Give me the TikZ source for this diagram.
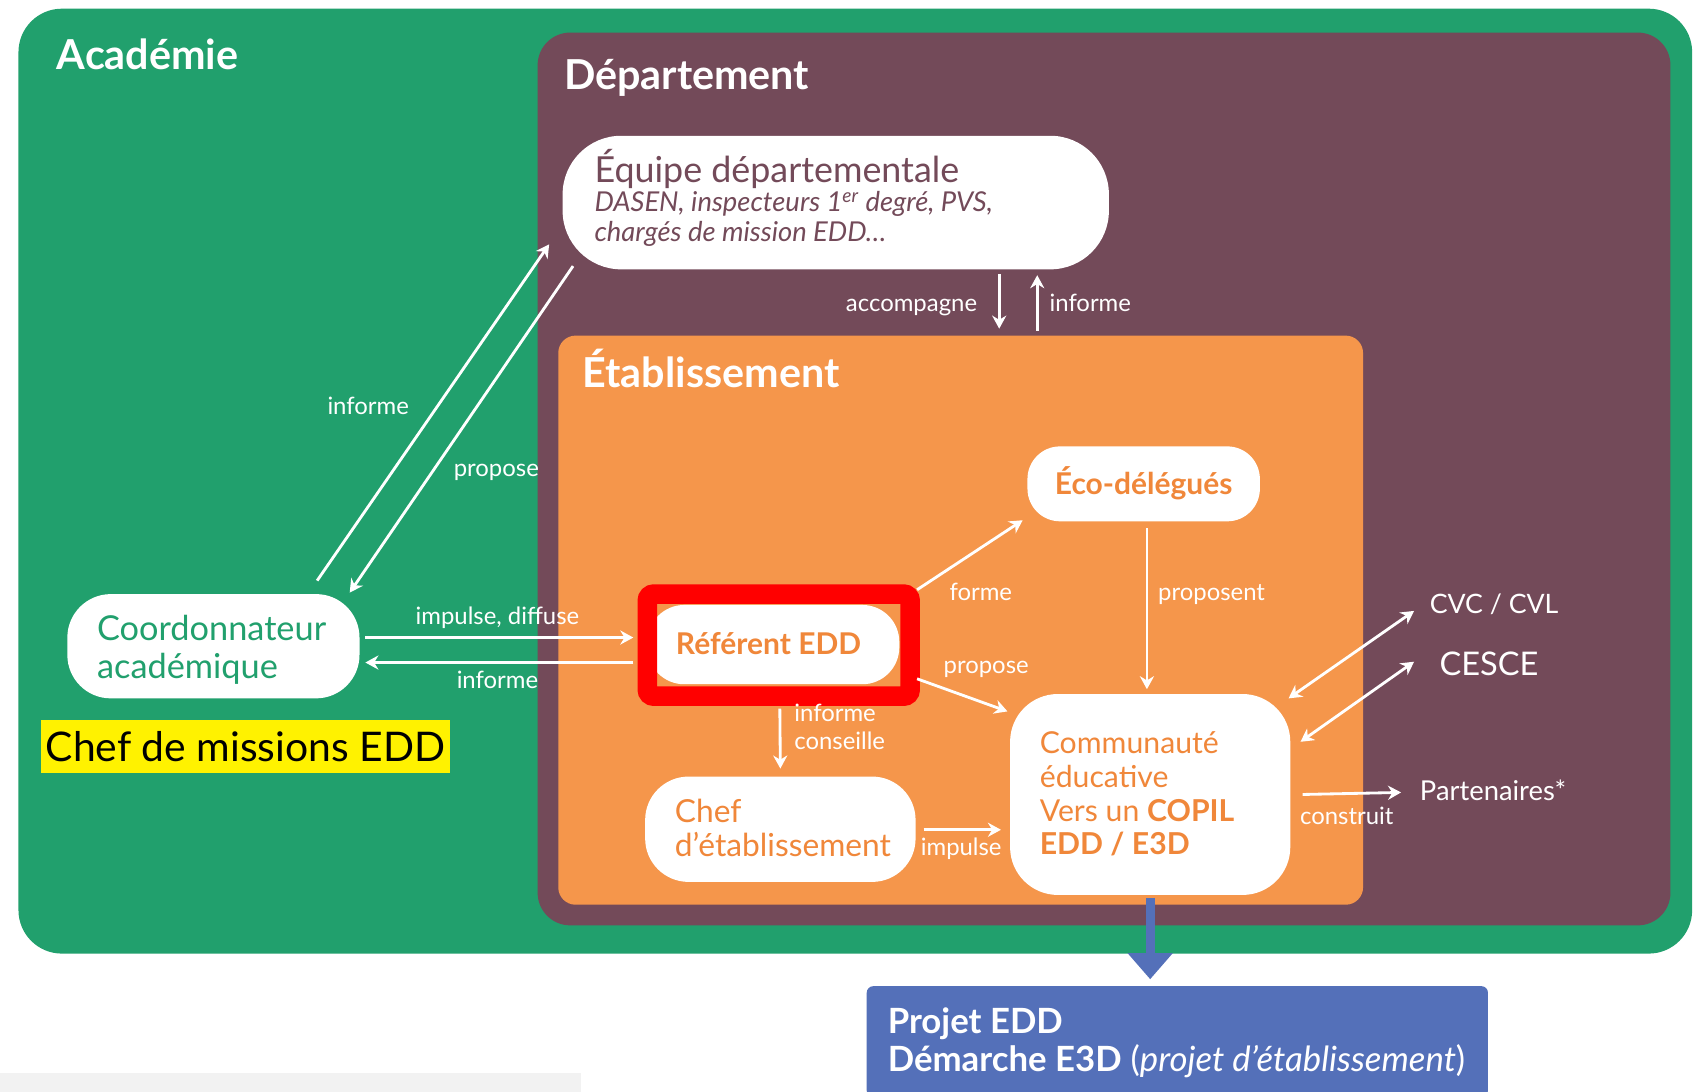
\documentclass[tikz,border=0pt]{standalone}
\usepackage{fontspec}
\setmainfont{Lato}
\usetikzlibrary{arrows.meta}
\definecolor{acgreen}{HTML}{21A06D}
\definecolor{dept}{HTML}{734A59}
\definecolor{etab}{HTML}{F5964B}
\definecolor{etabtxt}{HTML}{F0873A}
\definecolor{projblue}{HTML}{5470B9}
\begin{document}
\begin{tikzpicture}[x=0.5pt,y=-0.5pt,
  wbox/.style={fill=white, draw=none, inner sep=0pt},
  arr/.style={draw=white, line width=1.3pt, -{Stealth[length=6pt,width=6.5pt]}},
  darr/.style={draw=white, line width=1.3pt, {Stealth[length=6pt,width=6.5pt]}-{Stealth[length=6pt,width=6.5pt]}},
  lbl/.style={text=white, font=\fontsize{11}{13}\selectfont, inner sep=0pt},
  titletxt/.style={text=white, font=\bfseries\fontsize{19}{22}\selectfont, inner sep=0pt, anchor=base west},
  txt/.style={inner sep=0pt, anchor=base west, align=left},
]
\useasboundingbox (0,0) rectangle (1568,1005);
\fill[white] (0,0) rectangle (1568,1005);
\fill[black!5] (0,988) rectangle (535,1005);
% regions
\node[fill=acgreen, rounded corners=20pt, inner sep=0pt, minimum width=770.5pt, minimum height=435pt] (academie) at (787.5,443) {};
\node[fill=dept, rounded corners=15pt, inner sep=0pt, minimum width=521.5pt, minimum height=411pt] (departement) at (1016.5,441) {};
\node[fill=etab, rounded corners=8pt, inner sep=0pt, minimum width=370.5pt, minimum height=262pt] (etab) at (884.5,571) {};
\node[titletxt] (tacad) at (52,64) {Académie};
\node[titletxt] (tdept) at (519,82) {Département};
\node[titletxt] (tetab) at (536,357) {Établissement};
% white boxes
\node[wbox, rounded corners=27pt, minimum width=251.5pt, minimum height=61.5pt] (equipe) at (769.5,186.5) {};
\node[wbox, rounded corners=20pt, minimum width=134.5pt, minimum height=48pt] (coord) at (196.5,595) {};
\node[wbox, rounded corners=17pt, minimum width=116pt, minimum height=36.5pt] (ref) at (712,593.5) {};
\node[draw=red, line width=9pt, rounded corners=3pt, inner sep=0pt, minimum width=121pt, minimum height=47pt] (redbox) at (717,594) {};
\node[wbox, rounded corners=15pt, minimum width=107pt, minimum height=34.5pt] (eco) at (1053,445.5) {};
\node[wbox, rounded corners=20pt, minimum width=124.5pt, minimum height=48.5pt] (chef) at (718.5,763.5) {};
\node[wbox, rounded corners=22pt, minimum width=129pt, minimum height=92.5pt] (comm) at (1059,731.5) {};
\node[fill=projblue, rounded corners=3pt, inner sep=0pt, minimum width=286pt, minimum height=51pt] (projet) at (1084,959) {};
\node[fill=yellow, inner sep=0pt, minimum width=188pt, minimum height=24.5pt, font=\fontsize{18.8}{22}\selectfont] (chefmis) at (226,687.5) {Chef de missions EDD};
% texts
\node[txt, text=dept, font=\fontsize{16.5}{19}\selectfont] (tequipe) at (547,168) {Équipe départementale};
\node[txt, text=dept, font=\itshape\fontsize{12.6}{13.5}\selectfont] (tequipe2) at (547,222) {DASEN, inspecteurs 1\textsuperscript{er} degré, PVS,\\chargés de mission EDD…};
\node[txt, text=acgreen, font=\fontsize{15.8}{17.5}\selectfont] (tcoord) at (89,625) {Coordonnateur\\académique};
\node[txt, text=etabtxt, font=\bfseries\fontsize{13.8}{15}\selectfont] (tref) at (622,603) {Référent EDD};
\node[inner sep=0pt, anchor=base, text=etabtxt, font=\bfseries\fontsize{13.8}{15}\selectfont] (teco) at (1053,455) {Éco-délégués};
\node[txt, text=etabtxt, font=\fontsize{14.6}{16}\selectfont] (tchef) at (621,789) {Chef\\d’établissement};
\node[txt, text=etabtxt, font=\fontsize{13.9}{15.5}\selectfont] (tcomm) at (957,787) {Communauté\\éducative\\Vers un \textbf{COPIL}\\\textbf{EDD / E3D}};
\node[txt, text=white, font=\fontsize{16}{17.5}\selectfont] (tprojet) at (817,987) {\textbf{Projet EDD}\\\textbf{Démarche E3D} (\textit{projet d’établissement})};
\node[lbl, anchor=base west, font=\fontsize{12.3}{14}\selectfont] (cvc) at (1316,565) {CVC / CVL};
\node[lbl, anchor=base west, font=\fontsize{15}{18}\selectfont] (cesce) at (1325,622) {CESCE};
\node[lbl, anchor=base west, font=\fontsize{12.6}{14}\selectfont] (part) at (1307,737) {Partenaires*};
% arrows
\draw[arr] ([xshift=75.25pt,yshift=-2pt]equipe.south) -- ([xshift=17.75pt,yshift=3pt]etab.north);
\draw[arr] ([xshift=35.25pt,yshift=2pt]etab.north) -- ([xshift=92.75pt,yshift=-2.5pt]equipe.south);
\draw[arr] ([xshift=47.75pt,yshift=6pt]coord.north) -- ([xshift=-6pt,yshift=-19.25pt]equipe.west);
\draw[arr] ([xshift=5pt,yshift=-29.25pt]equipe.west) -- ([xshift=62.75pt,yshift=0.5pt]coord.north);
\draw[arr] ([xshift=2.5pt,yshift=4pt]coord.east) -- ([xshift=-6.25pt,yshift=3.25pt]ref.west);
\draw[arr] ([xshift=-6.25pt,yshift=-8.25pt]ref.west) -- ([xshift=2.5pt,yshift=-7.5pt]coord.east);
\draw[arr] ([xshift=8pt,yshift=25.25pt]ref.east) -- ([xshift=-2pt,yshift=-16.75pt]eco.west);
\draw[arr] ([xshift=8pt,yshift=-15.75pt]ref.east) -- ([xshift=-1pt,yshift=38.25pt]comm.west);
\draw[arr] ([xshift=3pt,yshift=-11pt]ref.south) -- ([yshift=3.5pt]chef.north);
\draw[arr] ([xshift=3.5pt,yshift=-0.25pt]chef.east) -- ([xshift=-4pt,yshift=-16.25pt]comm.west);
\draw[arr] ([xshift=1.5pt,yshift=-3pt]eco.south) -- ([xshift=-1.5pt,yshift=2pt]comm.north);
\draw[darr] ([xshift=-1pt,yshift=44.25pt]comm.east) -- ([xshift=-7pt,yshift=-3pt]cvc.west);
\draw[darr] ([xshift=4.5pt,yshift=24.25pt]comm.east) -- ([xshift=-11.5pt,yshift=1pt]cesce.west);
\draw[arr] ([xshift=5.5pt]comm.east) -- ([xshift=-8.5pt,yshift=-1pt]part.west);
\draw[draw=projblue, line width=4pt, -{Triangle[length=12pt,width=20pt]}] ([yshift=-1pt]comm.south) -- ([xshift=-12.5pt,yshift=3pt]projet.north);
% labels
\node[lbl, anchor=base east] (lacc) at (900,287) {accompagne};
\node[lbl, anchor=base west] (linf1) at (966,287) {informe};
\node[lbl, anchor=base] (linf2) at (339,382) {informe};
\node[lbl, anchor=base] (lprop1) at (457,439) {propose};
\node[lbl, anchor=base] (limp1) at (458,575) {impulse, diffuse};
\node[lbl, anchor=base] (linf3) at (458,634) {informe};
\node[lbl, anchor=base] (lforme) at (903,553) {forme};
\node[lbl, anchor=base] (lprop2) at (908,620) {propose};
\node[lbl, anchor=base west, align=left] (linfc) at (731,690) {informe\\conseille};
\node[lbl, anchor=base] (limp2) at (885,788) {impulse};
\node[lbl, anchor=base west] (lpropt) at (1066,553) {proposent};
\node[lbl, anchor=base] (lcons) at (1240,759) {construit};
\end{tikzpicture}
\end{document}
